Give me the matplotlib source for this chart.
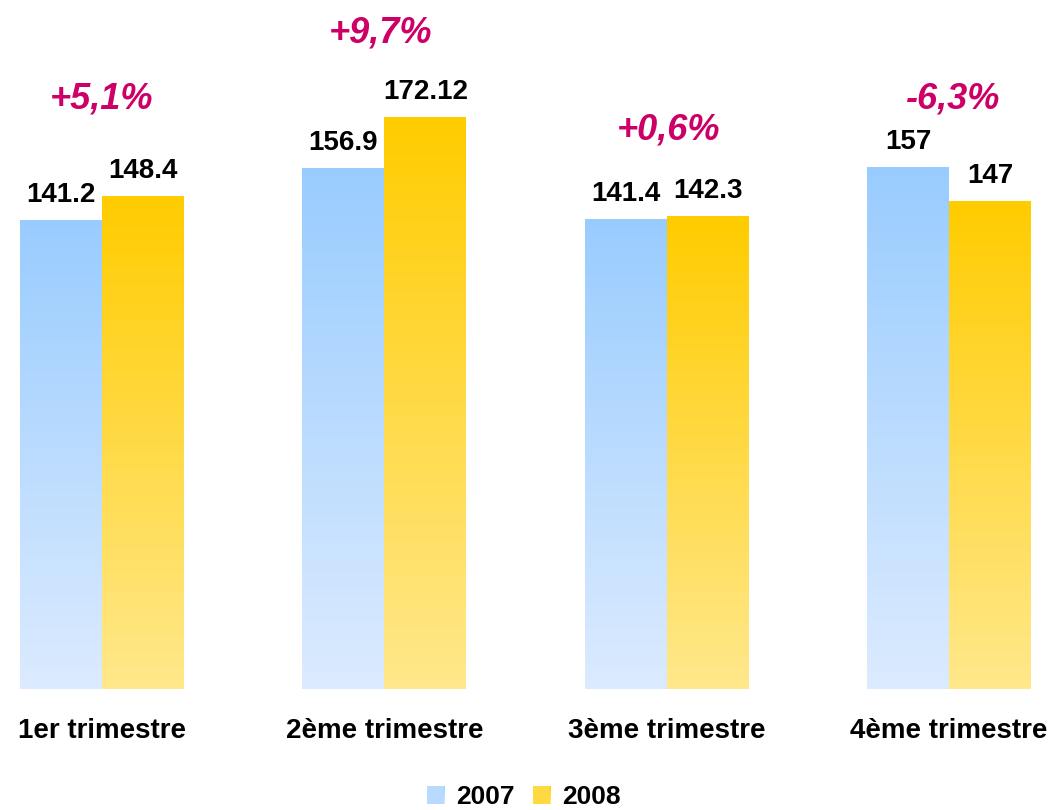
import numpy as np
import matplotlib
matplotlib.use("Agg")
import matplotlib.pyplot as plt
from matplotlib.colors import to_rgb
from matplotlib.patches import Rectangle

categories = ["1er trimestre", "2ème trimestre", "3ème trimestre", "4ème trimestre"]
series_names = ["2007", "2008"]
values_2007 = [141.2, 156.9, 141.4, 157]
values_2008 = [148.4, 172.12, 142.3, 147]
labels_2007 = ["141.2", "156.9", "141.4", "157"]
labels_2008 = ["148.4", "172.12", "142.3", "147"]
pct_labels = ["+5,1%", "+9,7%", "+0,6%", "-6,3%"]
pct_heights = [177.5, 197.6, 168.4, 177.5]
pct_x = [0.0, 0.985, 2.005, 3.012]

blue_top, blue_bottom = "#99CCFF", "#DCEBFE"
yel_top, yel_bottom = "#FFCC00", "#FFE88C"
pink = "#CC0066"

plt.rcParams['font.family'] = ['Liberation Sans', 'DejaVu Sans']

fig = plt.figure(figsize=(10.54, 8.10), dpi=100)
ax = fig.add_axes([0, 121/810, 1, 689/810])
xmin = -102/282.33
xmax = xmin + 1054/282.33
ymax = 689/3.322

x = np.arange(len(categories))
w = 0.29

def grad_img(top, bottom):
    c_top = np.array(to_rgb(top)); c_bot = np.array(to_rgb(bottom))
    t = np.linspace(0, 1, 256)[:, None]
    return (c_bot[None, :] * (1 - t) + c_top[None, :] * t)[:, None, :]

def grad_bars(bars, top, bottom):
    img = grad_img(top, bottom)
    for b in bars:
        b.set_facecolor("none"); b.set_edgecolor("none")
        x0 = b.get_x(); x1 = x0 + b.get_width(); h = b.get_height()
        im = ax.imshow(img, extent=[x0, x1, 0, h], origin="lower", aspect="auto",
                       interpolation="bilinear", zorder=1)
        im.set_clip_path(b)

b1 = ax.bar(x - w/2, values_2007, w, zorder=2)
b2 = ax.bar(x + w/2, values_2008, w, zorder=2)
grad_bars(b1, blue_top, blue_bottom)
grad_bars(b2, yel_top, yel_bottom)

for xi, v, lab in zip(x - w/2, values_2007, labels_2007):
    ax.annotate(lab, (xi, v), xytext=(0, 18), textcoords="offset points",
                ha="center", va="center", fontsize=20, fontweight="bold")
for xi, v, lab in zip(x + w/2, values_2008, labels_2008):
    ax.annotate(lab, (xi, v), xytext=(0, 18), textcoords="offset points",
                ha="center", va="center", fontsize=20, fontweight="bold")
for xi, hgt, lab in zip(pct_x, pct_heights, pct_labels):
    ax.text(xi, hgt, lab, ha="center", va="center", fontsize=26,
            fontweight="bold", fontstyle="italic", color=pink)

ax.set_xlim(xmin, xmax)
ax.set_ylim(0, ymax)
ax.set_xticks(x)
ax.set_xticklabels(categories, fontsize=20, fontweight="bold")
ax.tick_params(axis="x", length=0, pad=21)
ax.set_yticks([])
for s in ax.spines.values():
    s.set_visible(False)

handles = [Rectangle((0, 0), 1, 1, facecolor="#B8DAFE", edgecolor="none"),
           Rectangle((0, 0), 1, 1, facecolor="#FFD940", edgecolor="none")]
leg = fig.legend(handles, series_names, loc="center", bbox_to_anchor=(524/1054, 1 - 797/810),
                 ncol=2, frameon=False, prop={"weight": "bold", "size": 19},
                 handlelength=0.65, handleheight=0.65, handletextpad=0.45, columnspacing=0.7,
                 borderpad=0.1)

# gradient fill for legend keys
fig.canvas.draw()
renderer = fig.canvas.get_renderer()
for hnd, (top, bottom) in zip(leg.legend_handles, [(blue_top, blue_bottom), (yel_top, yel_bottom)]):
    bb = hnd.get_window_extent(renderer).transformed(fig.transFigure.inverted())
    kax = fig.add_axes([bb.x0, bb.y0, bb.width, bb.height])
    kax.imshow(grad_img(top, bottom), origin="lower", aspect="auto", interpolation="bilinear")
    kax.axis("off")

fig.savefig("out.png", dpi=100)
